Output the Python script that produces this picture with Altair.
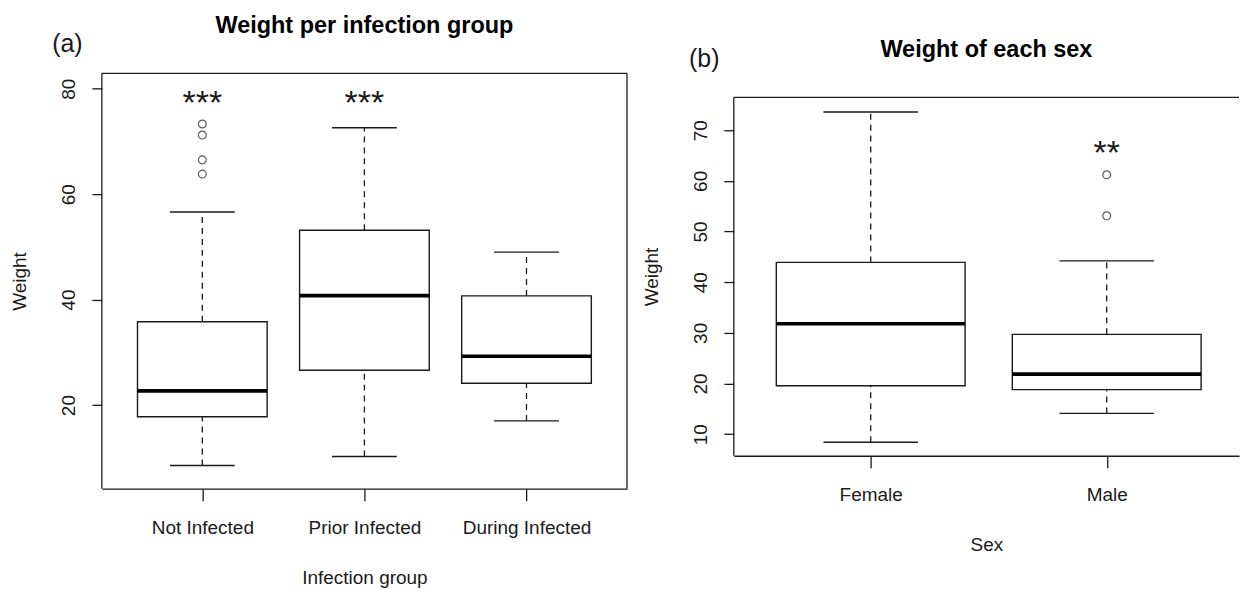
import altair as alt
import pandas as pd

FONT = "Liberation Sans"
INK = "#1a1a1a"

# ---------------- Panel (a) data ----------------
groups_a = ["Not Infected", "Prior Infected", "During Infected"]
pos_a = [1, 2, 3]
low_a = [8.55, 10.25, 17.0]
q1_a = [17.8, 26.6, 24.15]
med_a = [22.7, 40.75, 29.25]
q3_a = [35.8, 53.15, 40.7]
high_a = [56.6, 72.6, 49.0]
out_pos_a = [1, 1, 1, 1]
out_val_a = [73.3, 71.2, 66.5, 63.8]
star_pos_a = [1, 2]
star_txt_a = ["***", "***"]
star_val_a = [78.3, 78.3]

# ---------------- Panel (b) data ----------------
groups_b = ["Female", "Male"]
pos_b = [1, 2]
low_b = [8.4, 14.1]
q1_b = [19.55, 18.8]
med_b = [31.8, 21.85]
q3_b = [43.9, 29.7]
high_b = [73.6, 44.2]
out_pos_b = [2, 2]
out_val_b = [61.2, 53.1]
star_pos_b = [2]
star_txt_b = ["**"]
star_val_b = [66.55]


def panel(groups, pos, low, q1, med, q3, high, out_pos, out_val,
          star_pos, star_txt, star_val, W, H, xdom, ydom, yticks,
          xtitle, title, tag, tag_dx, tag_dy, right_line, top_gap):
    box = pd.DataFrame({"pos": pos, "low": low, "q1": q1, "med": med,
                        "q3": q3, "high": high})
    outl = pd.DataFrame({"pos": out_pos, "val": out_val})
    stars = pd.DataFrame({"pos": star_pos, "txt": star_txt, "val": star_val})

    lab = "[" + ",".join("'%s'" % g for g in groups) + "][datum.value - 1]"
    xaxis = alt.Axis(values=pos, labelExpr=lab, grid=False, domain=True,
                     domainColor=INK, domainWidth=1.3, tickColor=INK,
                     tickWidth=1.3, tickSize=12, labelFontSize=19,
                     labelFont=FONT, labelColor=INK, labelPadding=33,
                     labelBaseline="alphabetic", labelFlush=False,
                     labelOverlap=False, title=xtitle, titleFont=FONT,
                     titleFontSize=19, titleFontWeight="normal",
                     titleColor=INK, titleY=95, titleBaseline="alphabetic")
    yaxis = alt.Axis(values=yticks, grid=False, domain=False,
                     tickColor=INK, tickWidth=1.3,
                     tickSize=10, labelFontSize=19, labelFont=FONT,
                     labelColor=INK, labelAngle=270, labelAlign="center",
                     labelBaseline="alphabetic", labelPadding=17,
                     labelFlush=False, labelOverlap=False, title="Weight",
                     titleFont=FONT, titleFontSize=19,
                     titleFontWeight="normal", titleColor=INK,
                     titleAngle=270, titleX=-76, titleY=top_gap + (H - top_gap) / 2,
                     titleAlign="center", titleBaseline="alphabetic")
    xs = alt.Scale(domain=xdom, nice=False, zero=False)
    ys = alt.Scale(domain=ydom, nice=False, zero=False)

    def X(f):
        return alt.X(f, type="quantitative", scale=xs, axis=xaxis)

    def Y(f):
        return alt.Y(f, type="quantitative", scale=ys, axis=yaxis)

    base = alt.Chart(box).transform_calculate(
        xl="datum.pos - 0.4", xr="datum.pos + 0.4",
        cl="datum.pos - 0.2", cr="datum.pos + 0.2")

    rect = base.mark_rect(fill="white", stroke=INK, strokeWidth=1.4).encode(
        x=X("xl"), x2="xr", y=Y("q1"), y2="q3")
    medl = base.mark_rule(color="black", strokeWidth=3.6).encode(
        x=X("xl"), x2="xr", y=Y("med"))
    wup = base.mark_rule(color=INK, strokeWidth=1.3, strokeDash=[6, 5]).encode(
        x=X("pos"), y=Y("q3"), y2="high")
    wlo = base.mark_rule(color=INK, strokeWidth=1.3, strokeDash=[6, 5]).encode(
        x=X("pos"), y=Y("low"), y2="q1")
    cup = base.mark_rule(color=INK, strokeWidth=1.4).encode(
        x=X("cl"), x2="cr", y=Y("high"))
    clo = base.mark_rule(color=INK, strokeWidth=1.4).encode(
        x=X("cl"), x2="cr", y=Y("low"))
    pts = alt.Chart(outl).mark_point(shape="circle", filled=False, size=62,
                                     color=INK, strokeWidth=1.2).encode(
        x=X("pos"), y=Y("val"))
    st = alt.Chart(stars).mark_text(font=FONT, fontSize=34, color=INK,
                                    baseline="middle", dy=6).encode(
        x=X("pos"), y=Y("val"), text="txt:N")

    lines = alt.Chart(pd.DataFrame({"t": [title]}))
    top = lines.mark_rule(color=INK, strokeWidth=1.3).encode(
        x=alt.value(0), x2=alt.value(W), y=alt.value(top_gap))
    left = lines.mark_rule(color=INK, strokeWidth=1.3).encode(
        x=alt.value(0), y=alt.value(top_gap), y2=alt.value(H))
    ttl = lines.mark_text(font=FONT, fontSize=23.5, fontWeight="bold",
                          color="black", align="center",
                          baseline="alphabetic").encode(
        x=alt.value(W / 2), y=alt.value(top_gap - 40), text="t:N")
    tg = alt.Chart(pd.DataFrame({"t": [tag]})).mark_text(
        font=FONT, fontSize=25, color=INK, align="center",
        baseline="alphabetic").encode(
        x=alt.value(tag_dx), y=alt.value(top_gap + tag_dy), text="t:N")
    layers = [rect, wup, wlo, cup, clo, medl, pts, st, top, left, ttl, tg]
    if right_line:
        layers.append(lines.mark_rule(color=INK, strokeWidth=1.3).encode(
            x=alt.value(W), y=alt.value(top_gap), y2=alt.value(H)))
    return alt.layer(*layers).properties(width=W, height=H)


# panel (b) plot frame starts 25 px below panel (a)'s; its view is extended
# upward by that gap and the frame is drawn from there.
pa = panel(groups_a, pos_a, low_a, q1_a, med_a, q3_a, high_a, out_pos_a,
           out_val_a, star_pos_a, star_txt_a, star_val_a, 526, 416,
           [0.38, 3.62], [4.15, 82.9], [20, 40, 60, 80], "Infection group",
           "Weight per infection group", "(a)", -34.5, -21, True, 0)
pb = panel(groups_b, pos_b, low_b, q1_b, med_b, q3_b, high_b, out_pos_b,
           out_val_b, star_pos_b, star_txt_b, star_val_b, 506, 383,
           [0.42, 2.5605], [5.74, 81.22], [10, 20, 30, 40, 50, 60, 70], "Sex",
           "Weight of each sex", "(b)", -29.6, -30.8, False, 24)

chart = alt.hconcat(pa, pb, spacing=15).properties(
    padding={"left": 11, "top": 14, "right": 0, "bottom": 0},
    background="white",
).configure_view(stroke=None)

chart.save("out.html", embed_options={"renderer": "svg", "actions": False})
